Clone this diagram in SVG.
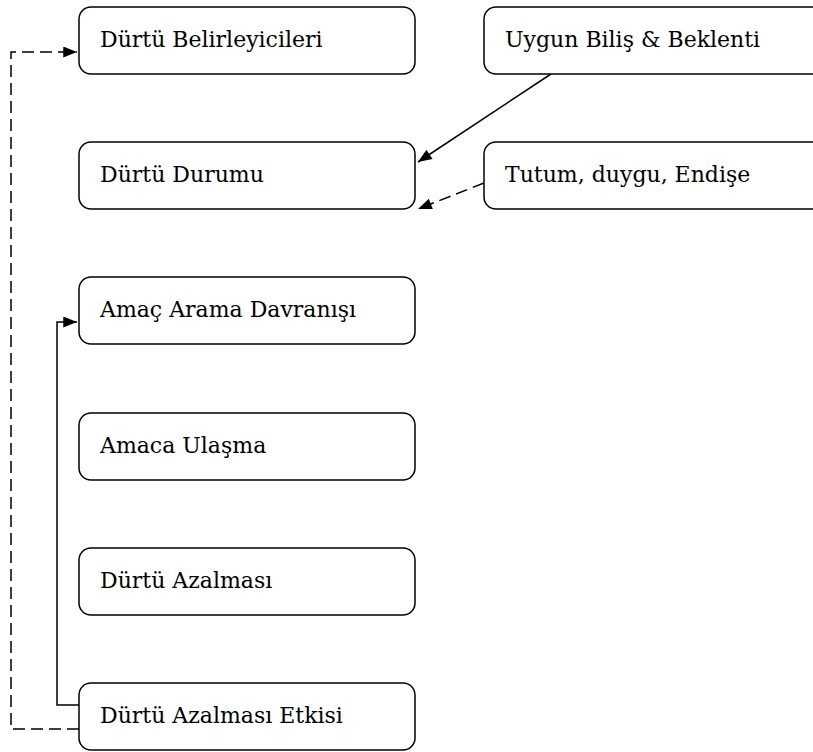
<svg xmlns="http://www.w3.org/2000/svg" width="813" height="752" viewBox="0 0 813 752">
<defs>
<style>
.box{fill:#fff;stroke:#000;stroke-width:1.5}
.t{font-family:"DejaVu Serif","Liberation Serif",serif;font-size:22px;fill:#000}
.c{fill:none;stroke:#000;stroke-width:1.5}
.d{stroke-dasharray:12,6}
</style>
<marker id="a" viewBox="0 0 10 8" refX="10" refY="4" markerWidth="15" markerHeight="11" markerUnits="userSpaceOnUse" orient="auto">
<path d="M0,0L10,4L0,8z" fill="#000"/>
</marker>
</defs>
<g id="connectors">
<path class="c d" d="M79,729H11V52H77" marker-end="url(#a)"/>
<path class="c" d="M79,705H57V322H77" marker-end="url(#a)"/>
<path class="c" d="M551,74L418,162" marker-end="url(#a)"/>
<path class="c d" d="M484,183L418,209" marker-end="url(#a)"/>
</g>
<g id="n1"><rect class="box" x="79" y="7" width="336" height="67" rx="12"/><text class="t" x="100" y="47">Dürtü Belirleyicileri</text></g>
<g id="n2"><rect class="box" x="79" y="142" width="336" height="67" rx="12"/><text class="t" x="100" y="182">Dürtü Durumu</text></g>
<g id="n3"><rect class="box" x="79" y="277" width="336" height="67" rx="12"/><text class="t" x="100" y="317">Amaç Arama Davranışı</text></g>
<g id="n4"><rect class="box" x="79" y="413" width="336" height="67" rx="12"/><text class="t" x="100" y="453">Amaca Ulaşma</text></g>
<g id="n5"><rect class="box" x="79" y="548" width="336" height="67" rx="12"/><text class="t" x="100" y="588">Dürtü Azalması</text></g>
<g id="n6"><rect class="box" x="79" y="683" width="336" height="67" rx="12"/><text class="t" x="100" y="723">Dürtü Azalması Etkisi</text></g>
<g id="n7"><rect class="box" x="484" y="7" width="345" height="67" rx="12"/><text class="t" x="505" y="47">Uygun Biliş &amp; Beklenti</text></g>
<g id="n8"><rect class="box" x="484" y="142" width="345" height="67" rx="12"/><text class="t" x="505" y="182">Tutum, duygu, Endişe</text></g>
</svg>
